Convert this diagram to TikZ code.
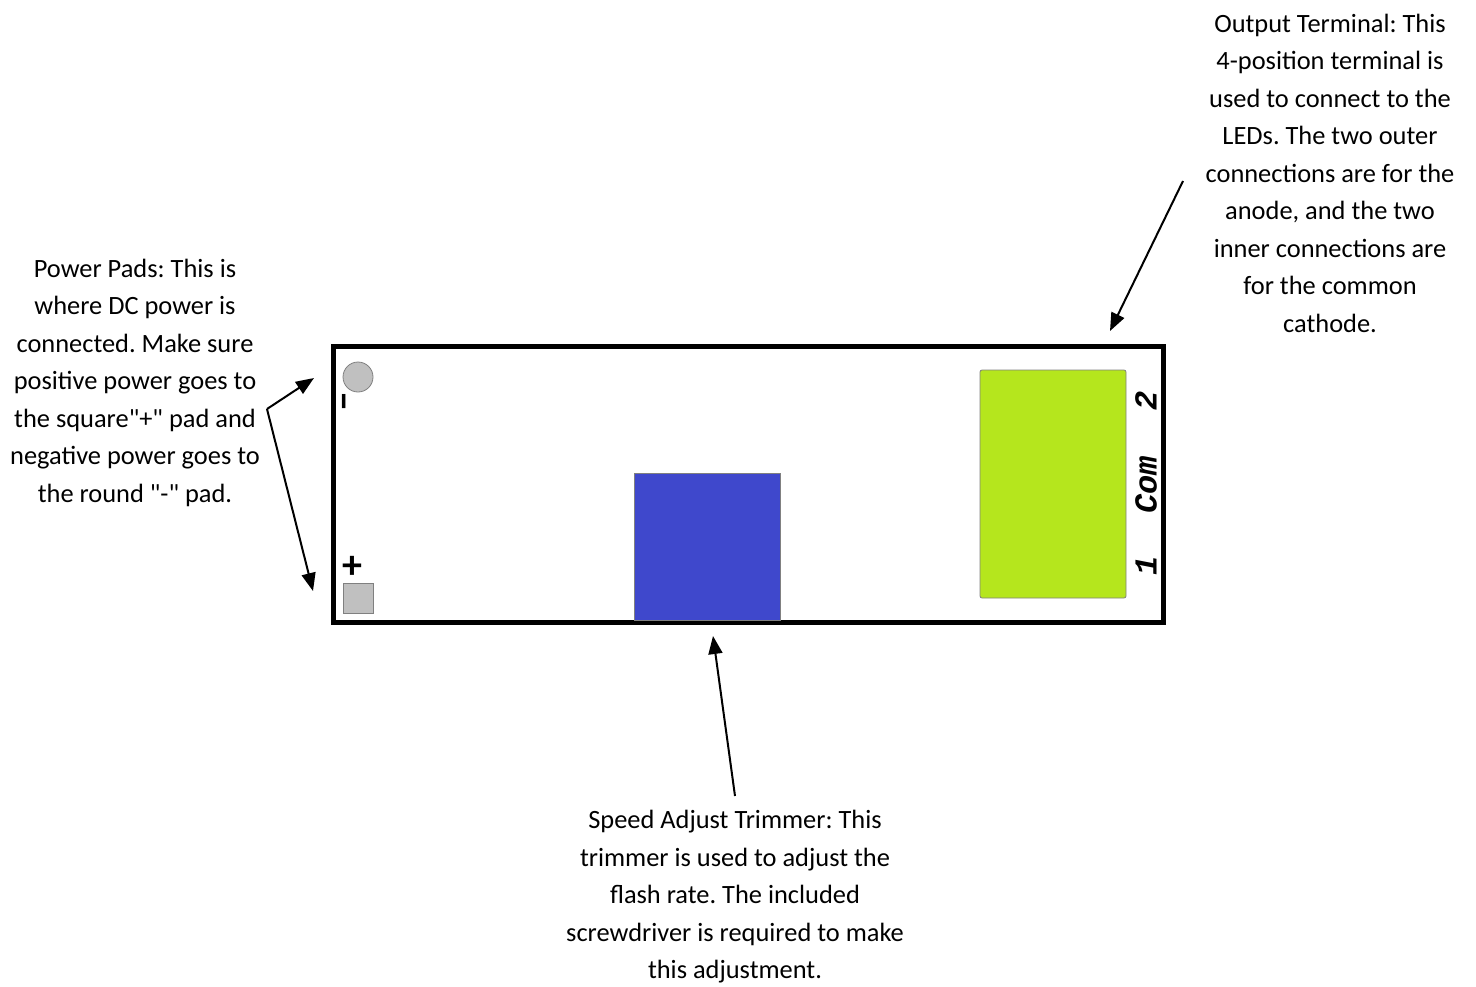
\documentclass[tikz,border=0pt]{standalone}
\usepackage{fontspec}
\newfontfamily\notefont{Carlito}
\newfontfamily\pinfont{Liberation Mono}
\usepackage{xcolor}
\usepackage{tikz}
\usetikzlibrary{positioning,arrows.meta}

\definecolor{padgray}{RGB}{192,192,192}
\definecolor{trimblue}{RGB}{63,72,204}
\definecolor{termgreen}{RGB}{181,230,29}

\begin{document}
\frenchspacing
\begin{tikzpicture}[x=0.5pt, y=-0.5pt,
        note/.style={align=center, inner sep=0pt, font=\notefont\fontsize{13.2}{18.75}\selectfont},
        pin/.style={rotate=90, inner sep=0pt, font=\pinfont\bfseries\itshape\fontsize{16}{16}\selectfont},
        sign/.style={inner sep=0pt, font=\notefont\bfseries\fontsize{20}{20}\selectfont},
        pointer/.style={-{Triangle[length=9pt,width=7pt]}, line width=1pt}]
        \useasboundingbox (0,0) rectangle (1476,986);

        % board
        \draw[line width=2.5pt] (333,346) rectangle (1163,622);
        \node (pos) [draw=gray, fill=padgray, minimum size=15pt, inner sep=0pt] at (358,598) {};
        \node (neg) [circle, draw=gray, fill=padgray, minimum size=15pt, inner sep=0pt] at (358,377) {};
        \node (plus) [sign] at (352,567) {+};
        \node (minus) [sign, rotate=90] at (349,402) {–};
        \node (trim) [draw=gray, fill=trimblue, minimum width=73pt, minimum height=73.5pt, inner sep=0pt] at (707,546.5) {};
        \node (term) [draw=gray, fill=termgreen, rounded corners=1pt, minimum width=73pt, minimum height=114pt, inner sep=0pt] at (1053,484) {};
        \node (p1) [pin] at (1146,566) {1};
        \node (pc) [pin] at (1146,485) {Com};
        \node (p2) [pin] at (1146,401) {2};

        % notes
        \node (powernote) [note] at (135,382.5) {Power Pads: This is\\ where DC power is\\ connected. Make sure\\ positive power goes to\\ the square"+" pad and\\ negative power goes to\\ the round "-" pad.};
        \node (outnote) [note] at (1330,173) {Output Terminal: This\\ 4-position terminal is\\ used to connect to the\\ LEDs. The two outer\\ connections are for the\\ anode, and the two\\ inner connections are\\ for the common\\ cathode.};
        \node (speednote) [note] at (735,897) {Speed Adjust Trimmer: This\\ trimmer is used to adjust the\\ flash rate. The included\\ screwdriver is required to make\\ this adjustment.};

        % arrows
        \coordinate (pwrfork) at (267,409);
        \coordinate (negtip) at (314,378);
        \coordinate (postip) at (313,591);
        \coordinate (outstart) at (1183,181);
        \coordinate (outtip) at (1110,331);
        \coordinate (speedstart) at (735,796);
        \coordinate (speedtip) at (713,636);

        \draw[pointer] (pwrfork) -- (negtip);
        \draw[pointer] (pwrfork) -- (postip);
        \draw[pointer] (outstart) -- (outtip);
        \draw[pointer] (speedstart) -- (speedtip);
\end{tikzpicture}
\end{document}
